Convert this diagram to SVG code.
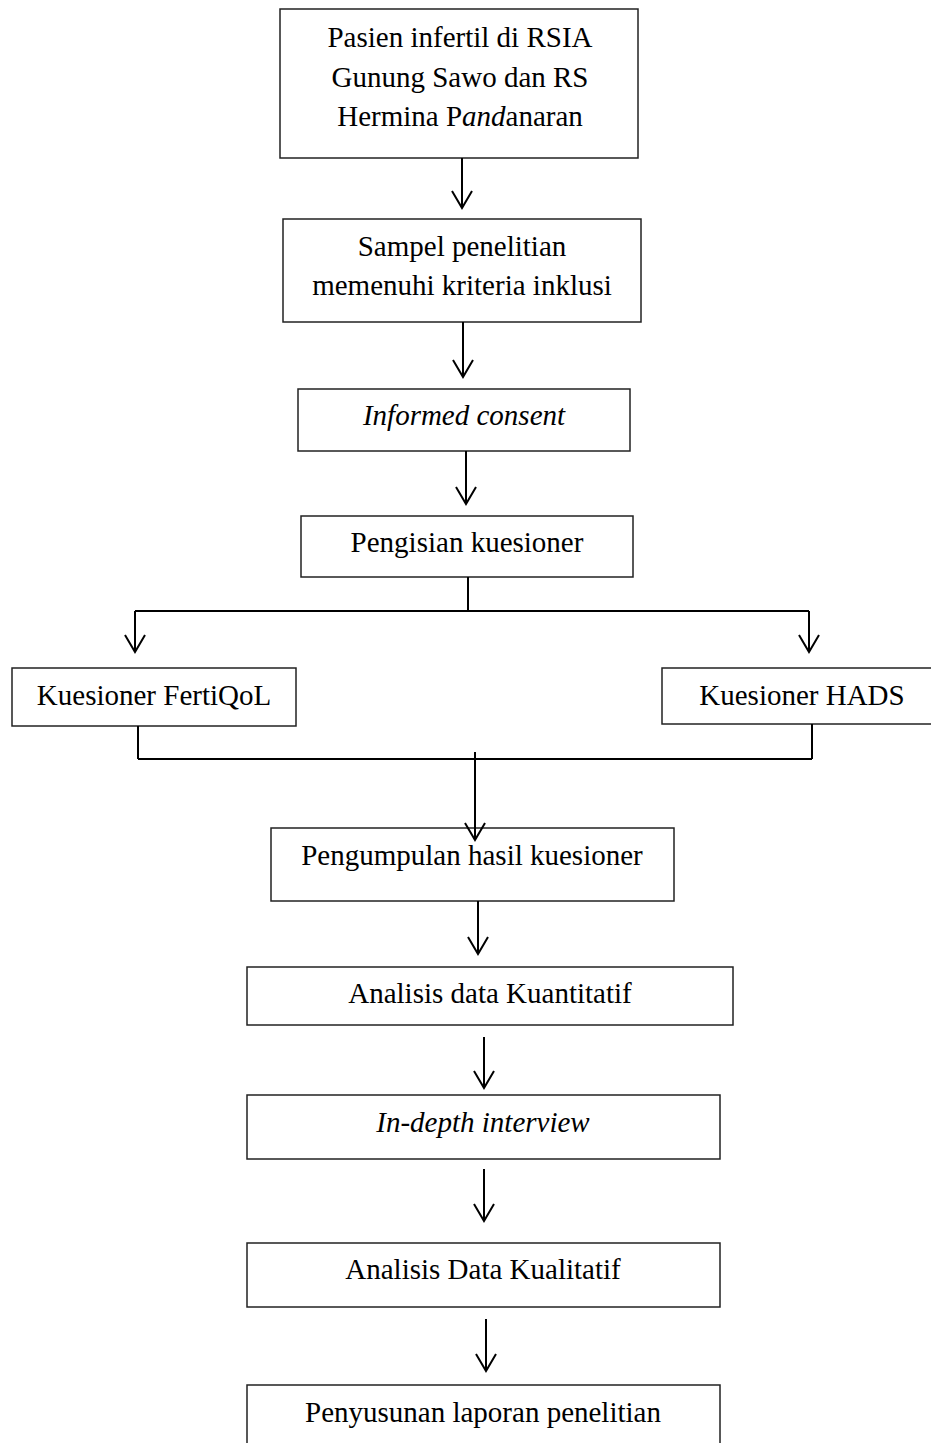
<svg xmlns="http://www.w3.org/2000/svg" width="931" height="1443" viewBox="0 0 931 1443">
<style>
.box{fill:#fff;stroke:#222;stroke-width:1.5}
.t{font-family:"Liberation Serif","Times New Roman",serif;font-size:29px;fill:#000;text-anchor:middle}
.i{font-style:italic}
.c{fill:none;stroke:#000;stroke-width:2}
</style>
<defs>
<marker id="ah" markerUnits="userSpaceOnUse" viewBox="-20 -12 22 24" markerWidth="22" markerHeight="24" refX="0" refY="0" orient="auto" overflow="visible">
<path d="M-17,-10 L0,0 L-17,10" fill="none" stroke="#000" stroke-width="2"/>
</marker>
</defs>
<rect width="931" height="1443" fill="#fff"/>
<g id="n1">
<rect class="box" x="280" y="9" width="358" height="149"/>
<text class="t" x="460" y="47">Pasien infertil di RSIA</text>
<text class="t" x="460" y="87">Gunung Sawo dan RS</text>
<text class="t" x="460" y="126">Hermina P<tspan class="i">and</tspan>anaran</text>
</g>
<g id="n2">
<rect class="box" x="283" y="219" width="358" height="103"/>
<text class="t" x="462" y="256">Sampel penelitian</text>
<text class="t" x="462" y="295">memenuhi kriteria inklusi</text>
</g>
<g id="n3">
<rect class="box" x="298" y="389" width="332" height="62"/>
<text class="t i" x="464" y="425">Informed consent</text>
</g>
<g id="n4">
<rect class="box" x="301" y="516" width="332" height="61"/>
<text class="t" x="467" y="552">Pengisian kuesioner</text>
</g>
<g id="n5">
<rect class="box" x="12" y="668" width="284" height="58"/>
<text class="t" x="154" y="705">Kuesioner FertiQoL</text>
</g>
<g id="n6">
<rect class="box" x="662" y="668" width="290" height="56"/>
<text class="t" x="802" y="705">Kuesioner HADS</text>
</g>
<g id="n7">
<rect class="box" x="271" y="828" width="403" height="73"/>
<text class="t" x="472" y="865">Pengumpulan hasil kuesioner</text>
</g>
<g id="n8">
<rect class="box" x="247" y="967" width="486" height="58"/>
<text class="t" x="490" y="1003">Analisis data Kuantitatif</text>
</g>
<g id="n9">
<rect class="box" x="247" y="1095" width="473" height="64"/>
<text class="t i" x="483" y="1132">In-depth interview</text>
</g>
<g id="n10">
<rect class="box" x="247" y="1243" width="473" height="64"/>
<text class="t" x="483" y="1279">Analisis Data Kualitatif</text>
</g>
<g id="n11">
<rect class="box" x="247" y="1385" width="473" height="80"/>
<text class="t" x="483" y="1422">Penyusunan laporan penelitian</text>
</g>
<g id="connectors">
<line class="c" x1="462" y1="158" x2="462" y2="208" marker-end="url(#ah)"/>
<line class="c" x1="463" y1="322" x2="463" y2="377" marker-end="url(#ah)"/>
<line class="c" x1="466" y1="451" x2="466" y2="504" marker-end="url(#ah)"/>
<line class="c" x1="468" y1="577" x2="468" y2="611"/>
<line class="c" x1="135" y1="611" x2="809" y2="611"/>
<line class="c" x1="135" y1="611" x2="135" y2="652" marker-end="url(#ah)"/>
<line class="c" x1="809" y1="611" x2="809" y2="652" marker-end="url(#ah)"/>
<line class="c" x1="138" y1="726" x2="138" y2="759"/>
<line class="c" x1="812" y1="724" x2="812" y2="759"/>
<line class="c" x1="138" y1="759" x2="812" y2="759"/>
<line class="c" x1="475" y1="752" x2="475" y2="840" marker-end="url(#ah)"/>
<line class="c" x1="478" y1="901" x2="478" y2="954" marker-end="url(#ah)"/>
<line class="c" x1="484" y1="1037" x2="484" y2="1088" marker-end="url(#ah)"/>
<line class="c" x1="484" y1="1169" x2="484" y2="1221" marker-end="url(#ah)"/>
<line class="c" x1="486" y1="1319" x2="486" y2="1371" marker-end="url(#ah)"/>
</g>
</svg>
